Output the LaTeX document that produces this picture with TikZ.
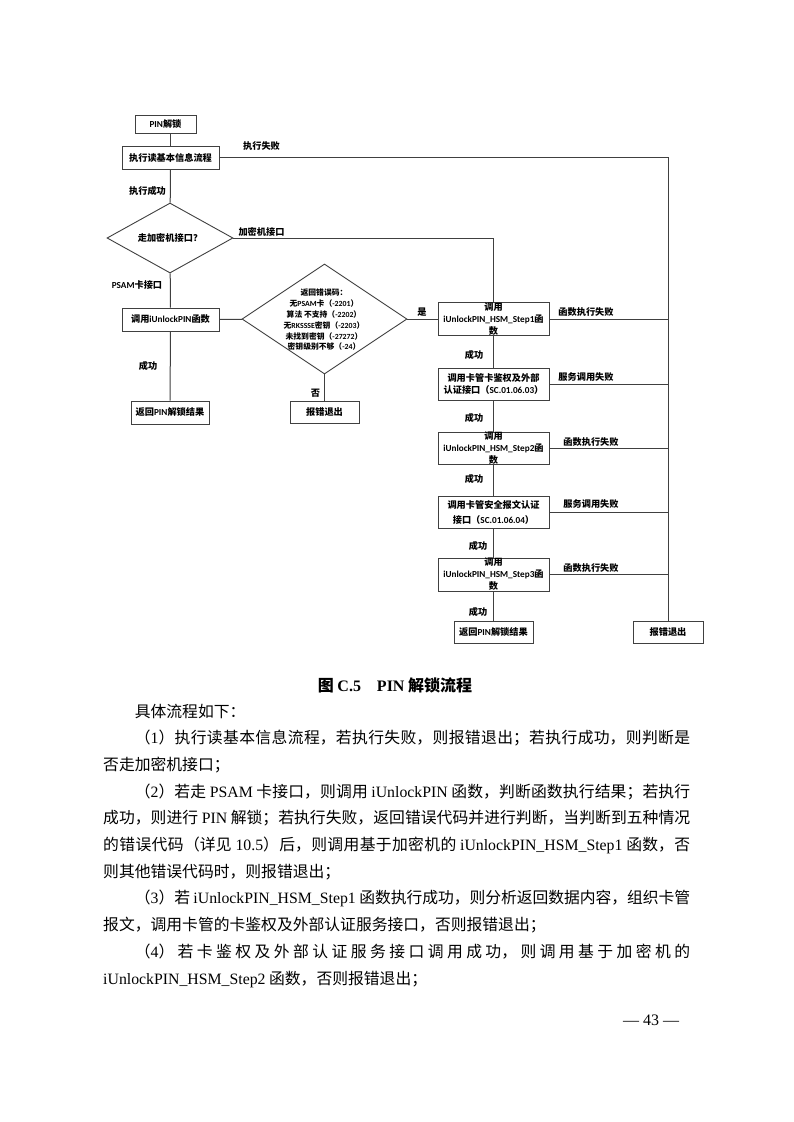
\documentclass[tikz,border=0pt]{standalone}
\usepackage{fontspec}
\setmainfont{Noto Sans CJK SC}
\newfontfamily\tnr{Liberation Serif}
\newfontfamily\calfont{Carlito}
\XeTeXlinebreaklocale "zh"
\XeTeXlinebreakskip = 0pt plus 3pt minus 0.5pt
\usetikzlibrary{shapes.geometric}
\newcommand{\flowfont}{\fontsize{9.2}{12}\selectfont\bfseries}
\newcommand{\codefont}{\fontsize{7.8}{10.8}\selectfont\bfseries}
\newcommand{\bodyfont}{\fontsize{15.8}{26.7}\selectfont}
\newcommand{\en}[1]{{\tnr #1}}
\newcommand{\enc}[1]{{\calfont\bfseries #1}}
\tikzstyle{startstop} = [rectangle, minimum width=61pt, minimum height=18pt, text centered, draw=black!75, line width=0.9pt, font=\flowfont, inner sep=1pt]
\tikzstyle{process} = [rectangle, minimum width=97pt, minimum height=23pt, text centered, align=center, draw=black!75, line width=0.9pt, font=\flowfont, inner sep=1pt]
\tikzstyle{hsm} = [process, minimum width=111pt, minimum height=32pt, inner ysep=0pt]
\tikzstyle{decision} = [diamond, aspect=1.8, inner sep=0pt, text centered, draw=black!75, line width=0.9pt, font=\flowfont]
\tikzstyle{conn} = [draw=black!75, line width=1pt]
\tikzstyle{lbl} = [font=\flowfont, inner sep=0pt]

\begin{document}
\begin{tikzpicture}[x=1pt, y=-1pt]
\fill[white] (0,0) rectangle (793,1122);
\useasboundingbox (0,0) rectangle (793,1122);

\node (start) [startstop] at (165.5,124.5) {\enc{PIN}解锁};

\node (read) [process] at (170.5,157.5) {执行读基本信息流程};

\node (dec1) [decision, minimum width=126pt, minimum height=70pt] at (170,238) {走加密机接口？};

\node (pin) [process] at (170.5,319.5) {调用\enc{iUnlockPIN}函数};

\node (res1) [process, minimum width=78pt] at (170,412.5) {返回\enc{PIN}解锁结果};

\node (dec2) [decision, minimum width=165pt, minimum height=110pt] at (324.5,319) {};
\node (codes) [font=\codefont, align=center, inner sep=0pt] at (324,320) {返回错误码：\\无\enc{PSAM}卡（\enc{-2201}）\\算法 不支持（\enc{-2202}）\\无\enc{RKSSSE}密钥（\enc{-2203}）\\未找到密钥（\enc{-27272}）\\密钥级别不够（\enc{-24}）};

\node (err1) [process, minimum width=69pt, minimum height=22pt] at (324.5,412) {报错退出};

\node (hsm1) [hsm] at (493.5,319) {调用\\\enc{iUnlockPIN\_HSM\_Step1}函\\数};

\node (auth1) [hsm] at (493.5,384) {调用卡管卡鉴权及外部\\认证接口（\enc{SC.01.06.03}）};

\node (hsm2) [hsm, minimum height=31pt] at (493.5,448.5) {调用\\\enc{iUnlockPIN\_HSM\_Step2}函\\数};

\node (auth2) [hsm] at (493.5,512) {调用卡管安全报文认证\\[3pt]接口（\enc{SC.01.06.04}）};

\node (hsm3) [hsm, minimum height=33pt] at (493.5,574.5) {调用\\\enc{iUnlockPIN\_HSM\_Step3}函\\数};

\node (res2) [process, minimum width=79pt, minimum height=22pt] at (493.5,632) {返回\enc{PIN}解锁结果};

\node (err2) [process, minimum width=70pt, minimum height=22pt] at (668,632) {报错退出};

\node (l1) [lbl] at (261.5,146) {执行失败};
\node (l2) [lbl] at (147.5,191) {执行成功};
\node (l3) [lbl] at (261.5,232) {加密机接口};
\node (l4) [lbl] at (137,285) {\enc{PSAM}卡接口};
\node (l5) [lbl] at (148,366) {成功};
\node (l6) [lbl] at (315.5,393) {否};
\node (l7) [lbl] at (422,312) {是};
\node (l8) [lbl] at (586,312) {函数执行失败};
\node (l9) [lbl] at (474,355) {成功};
\node (l10) [lbl] at (586,377) {服务调用失败};
\node (l11) [lbl] at (474,418) {成功};
\node (l12) [lbl] at (591,442) {函数执行失败};
\node (l13) [lbl] at (474,479) {成功};
\node (l14) [lbl] at (591,504) {服务调用失败};
\node (l15) [lbl] at (478,546) {成功};
\node (l16) [lbl] at (591,568) {函数执行失败};
\node (l17) [lbl] at (478,612) {成功};

\draw [conn] (read.north) -- (read.north |- start.south);
\draw [conn] (read) -- (dec1);
\draw [conn] (dec1) -- (pin);
\draw [conn] (pin) -- (res1);
\draw [conn] (pin) -- (dec2);
\draw [conn] (dec2) -- (err1);
\draw [conn] (dec2) -- (hsm1);
\draw [conn] (dec1.east) -- (dec1.east -| hsm1) -- (hsm1.north);
\draw [conn] (hsm1) -- (auth1);
\draw [conn] (auth1) -- (hsm2);
\draw [conn] (hsm2) -- (auth2);
\draw [conn] (auth2) -- (hsm3);
\draw [conn] (hsm3) -- (res2);
\draw [conn] (read.east) -- (read.east -| err2) -- (err2.north);
\draw [conn] (hsm1.east) -- (hsm1.east -| err2);
\draw [conn] (auth1.east) -- (auth1.east -| err2);
\draw [conn] (hsm2.east) -- (hsm2.east -| err2);
\draw [conn] (auth2.east) -- (auth2.east -| err2);
\draw [conn] (hsm3.east) -- (hsm3.east -| err2);

\node (cap) [font=\fontsize{16}{16}\selectfont\bfseries] at (395,685) {图 \en{\bfseries C.5}\hspace{1em}\en{\bfseries PIN} 解锁流程};

\node (body) [anchor=base west, text width=587pt, align=justify, font=\bodyfont, inner sep=0pt] at (103,717) {\parindent=0pt\parskip=0pt\tolerance=10000
\hspace*{2em}具体流程如下：\par
\hspace*{2em}（\en{1}）执行读基本信息流程，若执行失败，则报错退出；若执行成功，则判断是\linebreak 否走加密机接口；\par
\hspace*{2em}（\en{2}）若走 \en{PSAM} 卡接口，则调用 \en{iUnlockPIN} 函数，判断函数执行结果；若执行\linebreak 成功，则进行 \en{PIN} 解锁；若执行失败，返回错误代码并进行判断，当判断到五种情况\linebreak 的错误代码（详见 \en{10.5}）后，则调用基于加密机的 \en{iUnlockPIN\_HSM\_Step1} 函数，否\linebreak 则其他错误代码时，则报错退出；\par
\hspace*{2em}（\en{3}）若 \en{iUnlockPIN\_HSM\_Step1} 函数执行成功，则分析返回数据内容，组织卡管\linebreak 报文，调用卡管的卡鉴权及外部认证服务接口，否则报错退出；\par
\hspace*{2em}（\en{4}）若卡鉴权及外部认证服务接口调用成功，则调用基于加密机的\linebreak \en{iUnlockPIN\_HSM\_Step2} 函数，否则报错退出；\par};

\node (pg) [font=\fontsize{16}{16}\selectfont\tnr] at (651,1020) {— 43 —};
\end{tikzpicture}
\end{document}
